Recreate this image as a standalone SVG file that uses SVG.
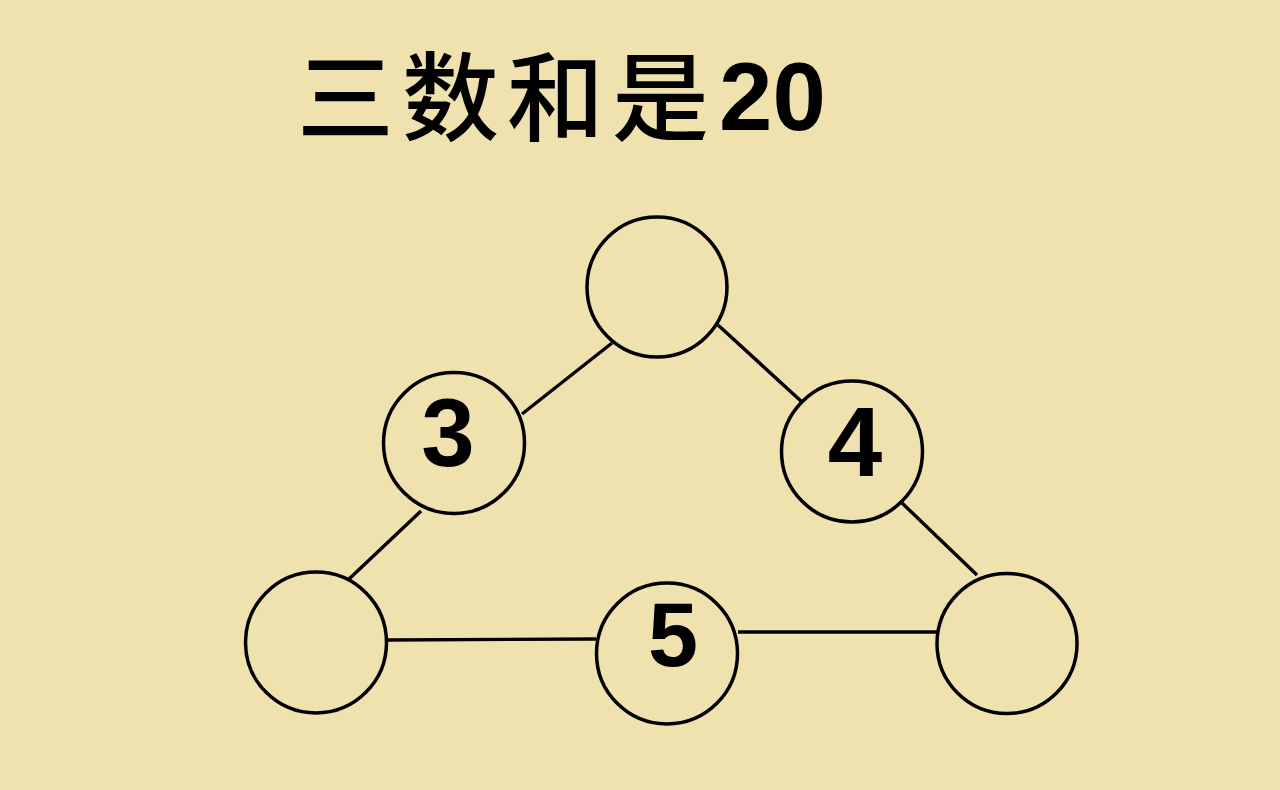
<svg xmlns="http://www.w3.org/2000/svg" width="1280" height="790" viewBox="0 0 1280 790">
<style>
.node circle{fill:none;stroke:#000;stroke-width:3.5}
.edges line{stroke:#000;stroke-width:3.4}
.num{font-family:"Liberation Sans",Arial,sans-serif;font-weight:bold;text-anchor:middle;fill:#000}
.title{font-family:"Noto Sans CJK SC","Noto Sans CJK JP",sans-serif;font-weight:500;font-size:97px;fill:#000}
</style>
<rect width="1280" height="790" fill="#F0E2AF"/>
<text class="title" x="297" y="133" letter-spacing="8">三数和是<tspan x="719" y="130" style="font-family:'Liberation Sans',Arial,sans-serif;font-weight:bold;font-size:96px;letter-spacing:0">20</tspan></text>
<g class="edges" id="connectors">
<line x1="612" y1="343" x2="522" y2="414"/>
<line x1="718" y1="325" x2="802" y2="402"/>
<line x1="421" y1="511" x2="348" y2="580"/>
<line x1="902" y1="503" x2="977" y2="575"/>
<line x1="387" y1="640" x2="596" y2="639"/>
<line x1="738" y1="632" x2="937" y2="632"/>
</g>
<g class="node" id="n-top"><circle cx="657" cy="287" r="70"/></g>
<g class="node" id="n-3"><circle cx="454" cy="443" r="70.5"/><text class="num" x="448" y="466" font-size="96">3</text></g>
<g class="node" id="n-4"><circle cx="852" cy="451.5" r="70.5"/><text class="num" x="855" y="476" font-size="98">4</text></g>
<g class="node" id="n-bl"><circle cx="316" cy="642.5" r="70.5"/></g>
<g class="node" id="n-5"><circle cx="667" cy="653.5" r="70.5"/><text class="num" x="673" y="666" font-size="90">5</text></g>
<g class="node" id="n-br"><circle cx="1007" cy="643.5" r="70"/></g>
</svg>
